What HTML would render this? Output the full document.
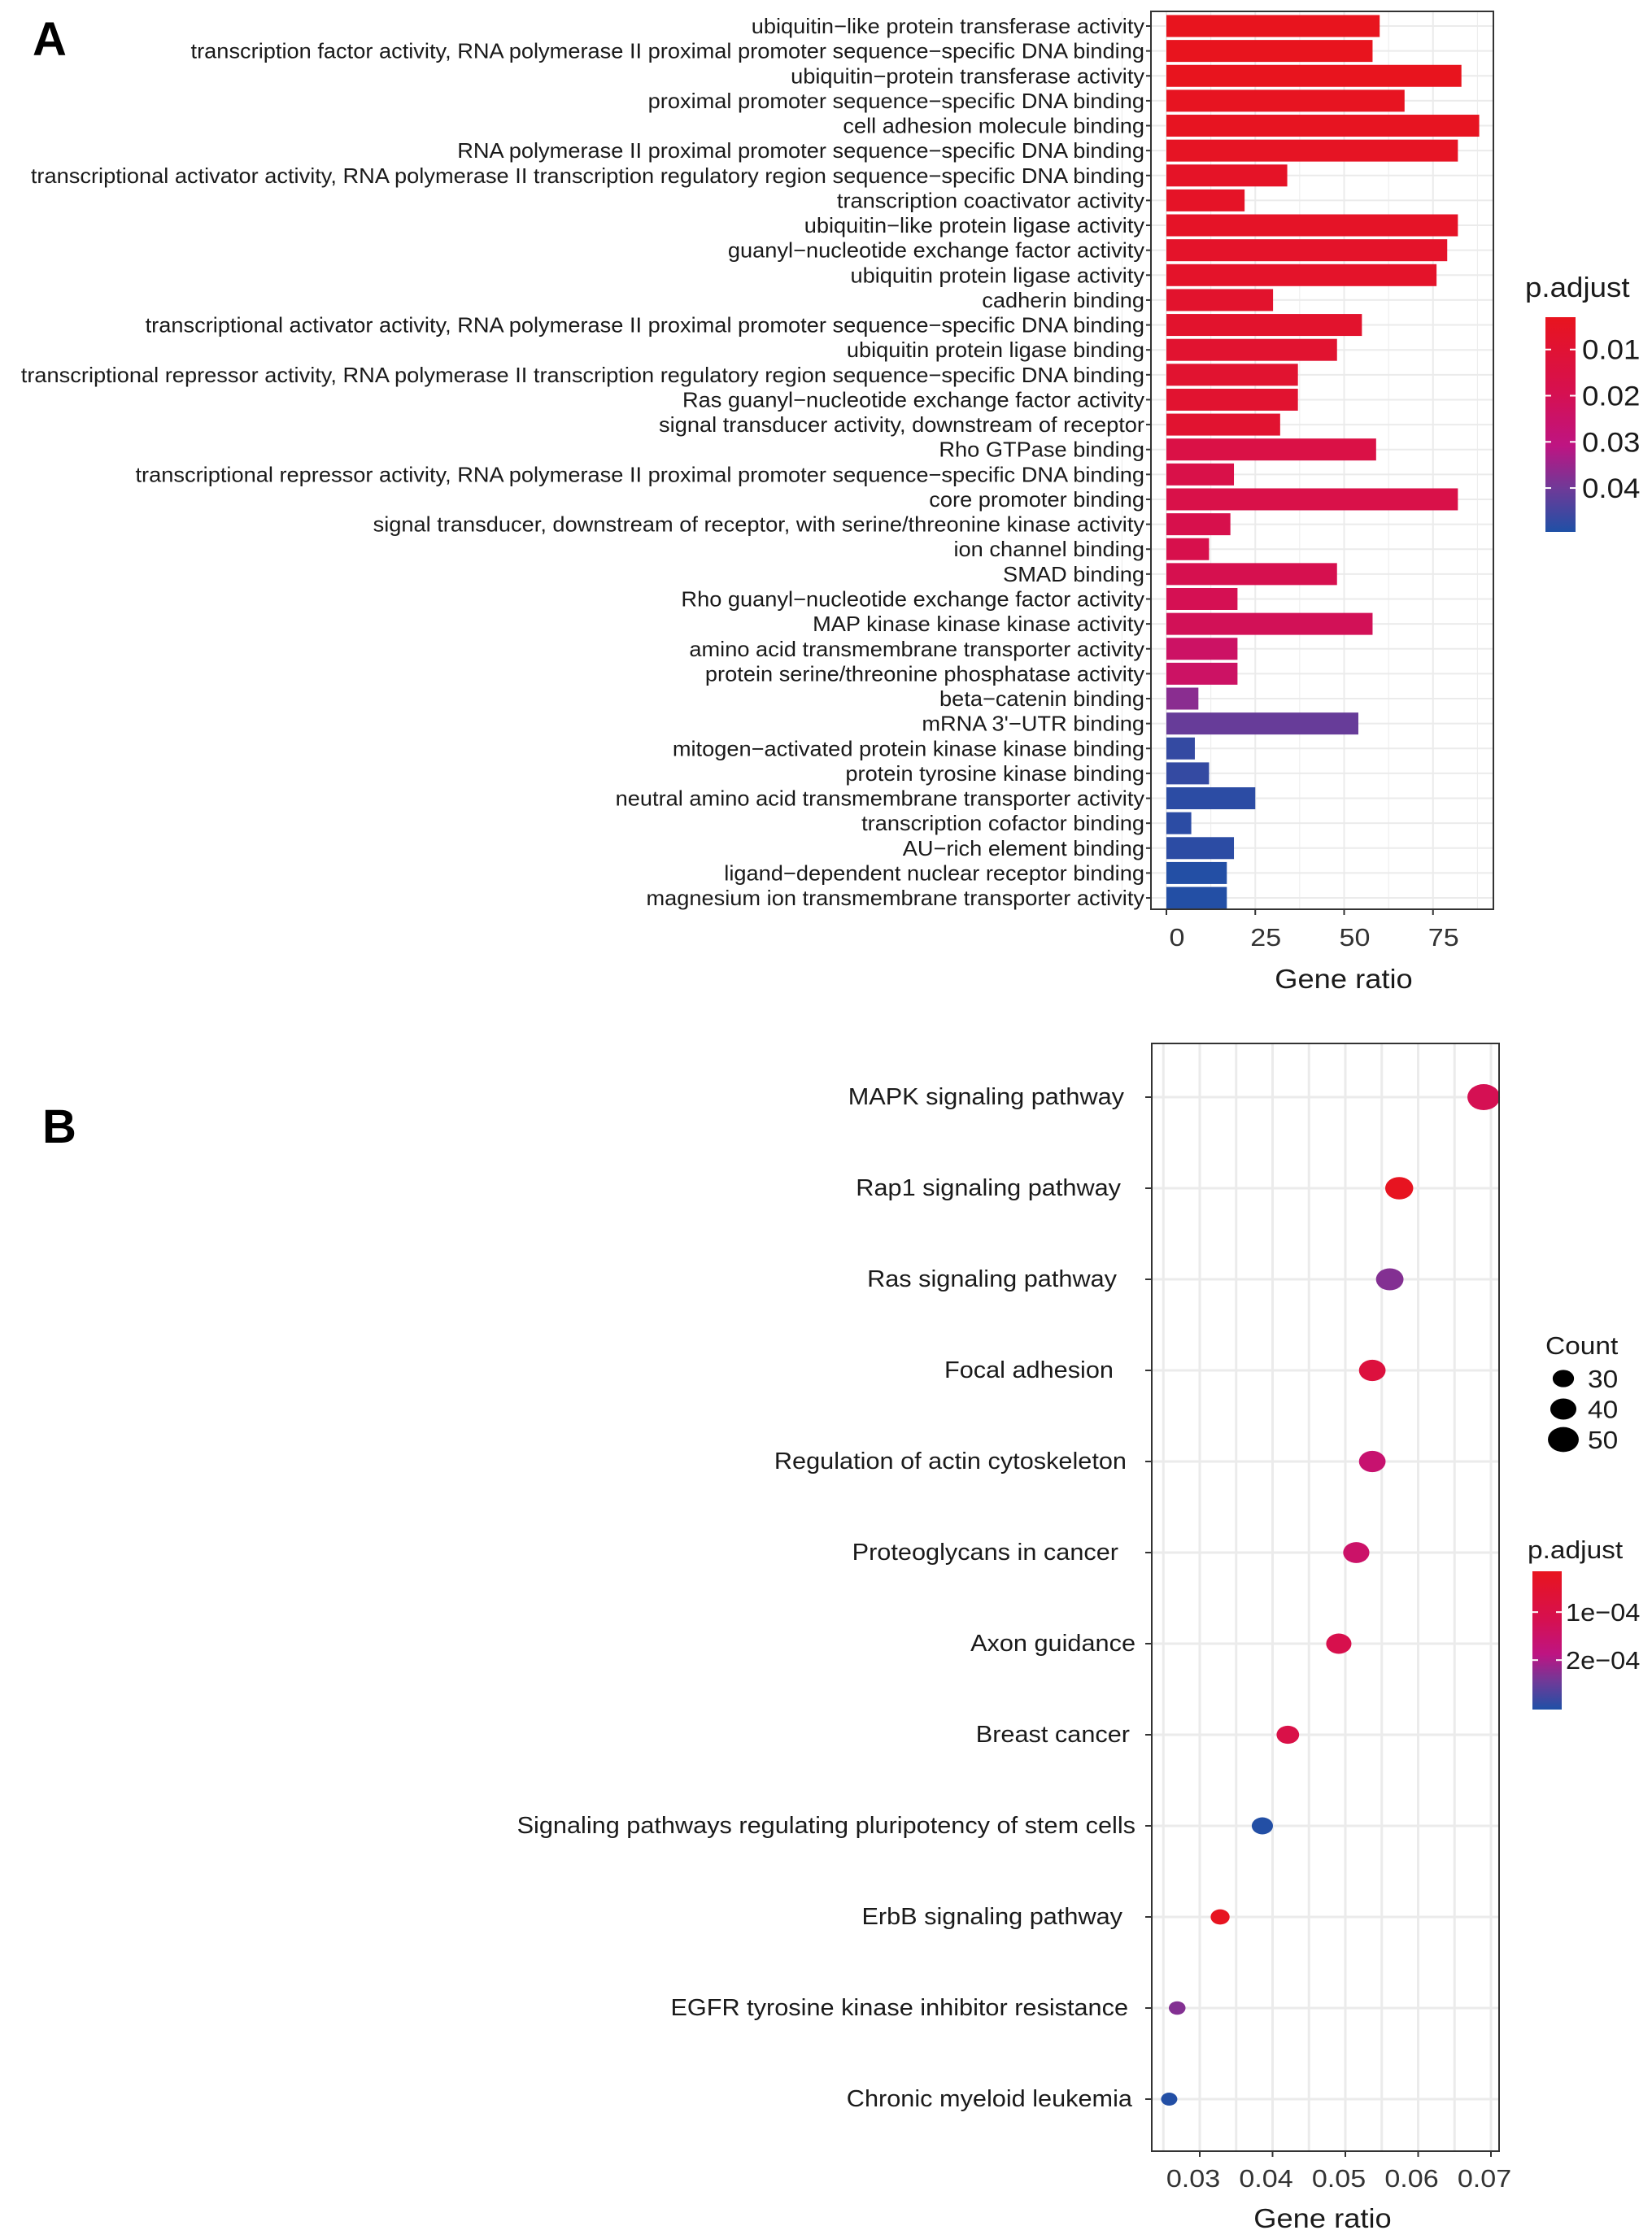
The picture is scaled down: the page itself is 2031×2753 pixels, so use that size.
<!DOCTYPE html>
<html><head><meta charset="utf-8"><style>
body{margin:0;background:#fff}
svg{display:block;font-family:"Liberation Sans",Arial,sans-serif}
</style></head><body>
<svg id="fig" width="2031" height="2753" viewBox="0 0 2031 2753" xmlns="http://www.w3.org/2000/svg">
<text x="40" y="68" font-size="58" font-weight="bold">A</text>
<text x="52" y="1405" font-size="58" font-weight="bold">B</text>
<g id="ga"></g>
<g id="gb"></g>
</svg>
<script>
const termsA=["ubiquitin−like protein transferase activity","transcription factor activity, RNA polymerase II proximal promoter sequence−specific DNA binding","ubiquitin−protein transferase activity","proximal promoter sequence−specific DNA binding","cell adhesion molecule binding","RNA polymerase II proximal promoter sequence−specific DNA binding","transcriptional activator activity, RNA polymerase II transcription regulatory region sequence−specific DNA binding","transcription coactivator activity","ubiquitin−like protein ligase activity","guanyl−nucleotide exchange factor activity","ubiquitin protein ligase activity","cadherin binding","transcriptional activator activity, RNA polymerase II proximal promoter sequence−specific DNA binding","ubiquitin protein ligase binding","transcriptional repressor activity, RNA polymerase II transcription regulatory region sequence−specific DNA binding","Ras guanyl−nucleotide exchange factor activity","signal transducer activity, downstream of receptor","Rho GTPase binding","transcriptional repressor activity, RNA polymerase II proximal promoter sequence−specific DNA binding","core promoter binding","signal transducer, downstream of receptor, with serine/threonine kinase activity","ion channel binding","SMAD binding","Rho guanyl−nucleotide exchange factor activity","MAP kinase kinase kinase activity","amino acid transmembrane transporter activity","protein serine/threonine phosphatase activity","beta−catenin binding","mRNA 3'−UTR binding","mitogen−activated protein kinase kinase binding","protein tyrosine kinase binding","neutral amino acid transmembrane transporter activity","transcription cofactor binding","AU−rich element binding","ligand−dependent nuclear receptor binding","magnesium ion transmembrane transporter activity"];
const countsA=[60,58,83,67,88,82,34,22,82,79,76,30,55,48,37,37,32,59,19,82,18,12,48,20,58,20,20,9,54,8,12,25,7,19,17,17];
const padjA=[0.003,0.003,0.003,0.004,0.004,0.005,0.006,0.006,0.006,0.007,0.007,0.008,0.008,0.009,0.009,0.009,0.009,0.016,0.017,0.017,0.018,0.018,0.019,0.02,0.021,0.024,0.024,0.037,0.041,0.047,0.047,0.048,0.048,0.048,0.049,0.049];
const ticksA=[0,25,50,75];
const legendA=[0.01,0.02,0.03,0.04];

const termsB=["MAPK signaling pathway","Rap1 signaling pathway","Ras signaling pathway","Focal adhesion","Regulation of actin cytoskeleton","Proteoglycans in cancer","Axon guidance","Breast cancer","Signaling pathways regulating pluripotency of stem cells","ErbB signaling pathway","EGFR tyrosine kinase inhibitor resistance","Chronic myeloid leukemia"];
const ratioB=[0.0690,0.0574,0.0561,0.0537,0.0537,0.0515,0.0491,0.0421,0.0386,0.0328,0.0269,0.0258];
const countB=[57,47,46,44,44,43,41,35,32,27,22,21];
const padjB=[1.2e-4,0.2e-4,2.3e-4,0.8e-4,1.6e-4,1.5e-4,1.1e-4,1.0e-4,3.0e-4,0.2e-4,2.3e-4,3.0e-4];
const ticksB=[0.03,0.04,0.05,0.06,0.07];
const legendCountB=[30,40,50];
const legendPB=[1e-4,2e-4];

const NS="http://www.w3.org/2000/svg";
function el(tag,attrs,parent,txt){const e=document.createElementNS(NS,tag);for(const k in attrs)e.setAttribute(k,attrs[k]);if(txt!==undefined)e.textContent=txt;parent.appendChild(e);return e;}
const stops=[[0,[232,20,30]],[0.35,[214,16,80]],[0.6,[190,20,130]],[0.8,[110,58,152]],[1,[31,80,166]]];
function grad(t){t=Math.max(0,Math.min(1,t));for(let i=1;i<stops.length;i++){if(t<=stops[i][0]){const a=stops[i-1],b=stops[i];const f=(t-a[0])/(b[0]-a[0]);const c=a[1].map((v,j)=>Math.round(v+(b[1][j]-v)*f));return `rgb(${c[0]},${c[1]},${c[2]})`;}}return "rgb(31,80,166)";}
function defsGrad(id,parent){const d=el('defs',{},parent);const lg=el('linearGradient',{id:id,x1:0,y1:0,x2:0,y2:1},d);stops.forEach(s=>el('stop',{offset:s[0],'stop-color':grad(s[0])},lg));}

// ---- Panel A ----
const ga=document.getElementById('ga');
const A={l:1415,r:1836,t:14,b:1118,x0:1434,ppu:4.37,y0:32,dy:30.63,bh:27,pmin:0.003,pmax:0.0495};
const xA=v=>A.x0+v*A.ppu, yA=i=>A.y0+i*A.dy, cA=p=>grad((p-A.pmin)/(A.pmax-A.pmin));
el('rect',{x:A.l,y:A.t,width:A.r-A.l,height:A.b-A.t,fill:'#fff'},ga);
for(let v=-12.5;v<=90;v+=12.5){const g=el('line',{x1:xA(v),x2:xA(v),y1:A.t,y2:A.b,stroke:'#ebebeb','stroke-width':v%25===0?2:1},ga);}
termsA.forEach((t,i)=>{el('line',{x1:A.l,x2:A.r,y1:yA(i),y2:yA(i),stroke:'#ebebeb','stroke-width':2},ga);});
termsA.forEach((t,i)=>{
  const r=el('rect',{x:xA(0),y:yA(i)-A.bh/2,width:xA(countsA[i])-xA(0),height:A.bh,fill:cA(padjA[i])},ga);
  
  
  const tx=el('text',{x:0,y:0,transform:`translate(1407,${yA(i)+9}) scale(1.047,1)`,'font-size':26,'text-anchor':'end',fill:'#1a1a1a'},ga,t);
  
  
  el('line',{x1:A.l-6,x2:A.l,y1:yA(i),y2:yA(i),stroke:'#333','stroke-width':2},ga);
});
el('rect',{x:A.l,y:A.t,width:A.r-A.l,height:A.b-A.t,fill:'none',stroke:'#333','stroke-width':2},ga);
ticksA.forEach(v=>{el('line',{x1:xA(v),x2:xA(v),y1:A.b,y2:A.b+7,stroke:'#333','stroke-width':2},ga);
  const tl=el('text',{x:0,y:0,transform:`translate(${xA(v)+13},1163) scale(1.1,1)`,'font-size':31,'text-anchor':'middle',fill:'#333'},ga,String(v));
  
  });
el('text',{x:0,y:0,transform:'translate(1652,1215) scale(1.1,1)','font-size':33,'text-anchor':'middle',fill:'#1a1a1a',},ga,'Gene ratio');
defsGrad('gA',ga);
const lgA={x:1900,w:37,t:390,b:654};
el('text',{x:0,y:0,transform:'translate(1875,365) scale(1.08,1)','font-size':34,fill:'#1a1a1a',},ga,'p.adjust');
el('rect',{x:lgA.x,y:lgA.t,width:lgA.w,height:lgA.b-lgA.t,fill:'url(#gA)',},ga);
legendA.forEach(p=>{const y=lgA.t+(p-A.pmin)/(A.pmax-A.pmin)*(lgA.b-lgA.t);
  el('line',{x1:lgA.x,x2:lgA.x+7,y1:y,y2:y,stroke:'#fff','stroke-width':2},ga);
  el('line',{x1:lgA.x+lgA.w-7,x2:lgA.x+lgA.w,y1:y,y2:y,stroke:'#fff','stroke-width':2},ga);
  const t=el('text',{x:0,y:0,transform:`translate(1945,${y+12}) scale(1.08,1)`,'font-size':34,fill:'#1a1a1a'},ga,p.toFixed(2));
  
  });

// ---- Panel B ----
const gb=document.getElementById('gb');
const B={l:1416,r:1843,t:1283,b:2645,y0:1349,dy:112,pmin:0.15e-4,pmax:3.03e-4};
const xB=v=>1475+(v-0.03)/0.01*89.5, yB=i=>B.y0+i*B.dy, cB=p=>grad((p-B.pmin)/(B.pmax-B.pmin));
const rB=c=>10+(c-21)/(57-21)*10;
const labelEnd=[1382,1378,1373,1369,1385,1375,1396,1389,1396,1380,1387,1392];
el('rect',{x:B.l,y:B.t,width:B.r-B.l,height:B.b-B.t,fill:'#fff'},gb);
for(let v=0.025;v<=0.0751;v+=0.005){const x=xB(v);if(x>B.l&&x<B.r)el('line',{x1:x,x2:x,y1:B.t,y2:B.b,stroke:'#ebebeb','stroke-width':3},gb);}
termsB.forEach((t,i)=>{el('line',{x1:B.l,x2:B.r,y1:yB(i),y2:yB(i),stroke:'#ebebeb','stroke-width':3},gb);
  el('line',{x1:B.l-8,x2:B.l,y1:yB(i),y2:yB(i),stroke:'#333','stroke-width':2},gb);
  const tx=el('text',{x:0,y:0,transform:`translate(${labelEnd[i]},${yB(i)+9}) scale(1.058,1)`,'font-size':29,'text-anchor':'end',fill:'#1a1a1a'},gb,t);
  
  });
termsB.forEach((t,i)=>{const r=rB(countB[i]);
  const d=el('ellipse',{cx:xB(ratioB[i]),cy:yB(i),rx:r,ry:r*0.8,fill:cB(padjB[i])},gb);
  
  });
el('rect',{x:B.l,y:B.t,width:B.r-B.l,height:B.b-B.t,fill:'none',stroke:'#333','stroke-width':2},gb);
ticksB.forEach(v=>{el('line',{x1:xB(v),x2:xB(v),y1:B.b,y2:B.b+7,stroke:'#333','stroke-width':2},gb);
  const tl=el('text',{x:0,y:0,transform:`translate(${xB(v)-8},2689) scale(1.1,1)`,'font-size':31,'text-anchor':'middle',fill:'#333'},gb,v.toFixed(2));
  
  });
el('text',{x:0,y:0,transform:'translate(1626,2739) scale(1.1,1)','font-size':33,'text-anchor':'middle',fill:'#1a1a1a',},gb,'Gene ratio');
el('text',{x:0,y:0,transform:'translate(1900,1665) scale(1.08,1)','font-size':31,fill:'#1a1a1a',},gb,'Count');
legendCountB.forEach((c,i)=>{const y=1695+i*37.5;const r=rB(c);
  const d=el('ellipse',{cx:1922,cy:y,rx:r*1.05,ry:r*0.85,fill:'#000'},gb);
  
  
  el('text',{x:0,y:0,transform:`translate(1952,${y+11}) scale(1.08,1)`,'font-size':31,fill:'#1a1a1a'},gb,String(c));});
defsGrad('gB',gb);
const lgB={x:1884,w:36,t:1932,b:2102};
el('text',{x:0,y:0,transform:'translate(1878,1916) scale(1.08,1)','font-size':31,fill:'#1a1a1a',},gb,'p.adjust');
el('rect',{x:lgB.x,y:lgB.t,width:lgB.w,height:lgB.b-lgB.t,fill:'url(#gB)',},gb);
legendPB.forEach(p=>{const y=lgB.t+(p-B.pmin)/(B.pmax-B.pmin)*(lgB.b-lgB.t);
  el('line',{x1:lgB.x,x2:lgB.x+7,y1:y,y2:y,stroke:'#fff','stroke-width':2},gb);
  el('line',{x1:lgB.x+lgB.w-7,x2:lgB.x+lgB.w,y1:y,y2:y,stroke:'#fff','stroke-width':2},gb);
  const t=el('text',{x:0,y:0,transform:`translate(1925,${y+11}) scale(1.05,1)`,'font-size':31,fill:'#1a1a1a'},gb,p.toExponential(0).replace('e-4','e−04'));
  
  });
</script>
</body></html>
